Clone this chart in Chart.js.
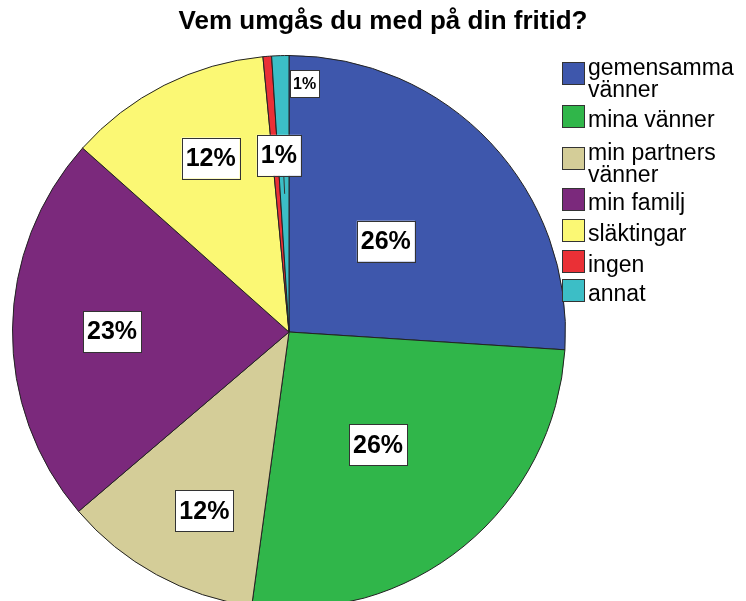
<!DOCTYPE html>
<html>
<head>
<meta charset="utf-8">
<script src="https://cdn.jsdelivr.net/npm/chart.js@4"></script>
<style>
  html, body { margin: 0; padding: 0; background: #fff; overflow: hidden; }
  #wrap { position: relative; width: 746px; height: 640px; }
</style>
</head>
<body>
<div id="wrap"><canvas id="pieChart"></canvas></div>
<script>
const chartTitle = "Vem umgås du med på din fritid?";
const categories = ["gemensamma vänner", "mina vänner", "min partners vänner", "min familj", "släktingar", "ingen", "annat"];
const percents = [26.0, 26.1, 11.6, 22.8, 11.9, 0.5, 1.0];
const sliceColors = ["#3e57ac", "#30b64a", "#d4cd98", "#7b297c", "#fbf874", "#ea3036", "#3cbec6"];

// where each percent box sits: fraction of radius, angle shift (deg), font size
const labelRadius = [0.48, 0.52, 0.715, 0.64, 0.69, 0.9, 0.64];
const labelShift = [0, 1, -3.3, -0.5, 2.6, 8.1, -1.5];
const labelSize = [25, 25, 25, 25, 25, 16, 25];

// legend row spacing (px) after each entry
const legendStep = [43, 42, 41, 31, 31, 29, 30];

const labelPlugin = {
  id: "pctLabels",
  afterDatasetsDraw(chart) {
    const ctx = chart.ctx;
    const arcs = chart.getDatasetMeta(0).data;
    ctx.save();
    arcs.forEach((arc, i) => {
      const p = arc.getProps(["x", "y", "startAngle", "endAngle", "outerRadius"], true);
      const mid = (p.startAngle + p.endAngle) / 2;
      const a = mid + labelShift[i] * Math.PI / 180;
      const lx = p.x + Math.cos(a) * p.outerRadius * labelRadius[i];
      const ly = p.y + Math.sin(a) * p.outerRadius * labelRadius[i];
      const size = labelSize[i];
      const text = Math.round(percents[i]) + "%";
      ctx.font = "bold " + size + "px 'Liberation Sans', Arial, sans-serif";
      const w = ctx.measureText(text).width + (size > 20 ? 8 : 6);
      const h = size > 20 ? 41 : 27;

      // leader line for the thin slice whose box sits outside it
      if (i === 6) {
        ctx.strokeStyle = "#333";
        ctx.lineWidth = 1;
        ctx.beginPath();
        ctx.moveTo(lx + 5, ly + h / 2);
        ctx.lineTo(p.x + Math.cos(mid) * p.outerRadius * 0.5, p.y + Math.sin(mid) * p.outerRadius * 0.5);
        ctx.stroke();
      }

      ctx.fillStyle = "#fff";
      ctx.fillRect(lx - w / 2, ly - h / 2, w, h);
      ctx.strokeStyle = "#333";
      ctx.lineWidth = 1;
      ctx.strokeRect(Math.round(lx - w / 2) + 0.5, Math.round(ly - h / 2) + 0.5, Math.round(w), Math.round(h));
      ctx.fillStyle = "#000";
      ctx.textAlign = "center";
      ctx.textBaseline = "middle";
      ctx.fillText(text, lx, ly + 1);
    });
    ctx.restore();
  }
};

function wrapText(ctx, text, maxWidth) {
  const words = text.split(" ");
  const lines = [];
  let line = "";
  words.forEach((word) => {
    const test = line ? line + " " + word : word;
    if (line && ctx.measureText(test).width > maxWidth) {
      lines.push(line);
      line = word;
    } else {
      line = test;
    }
  });
  lines.push(line);
  return lines;
}

const sideLegendPlugin = {
  id: "sideLegend",
  afterDraw(chart) {
    const ctx = chart.ctx;
    ctx.save();
    ctx.font = "23px 'Liberation Sans', Arial, sans-serif";
    ctx.textBaseline = "middle";
    ctx.textAlign = "left";
    let top = 62;
    chart.data.labels.forEach((label, i) => {
      const lines = wrapText(ctx, label, 152);
      ctx.fillStyle = sliceColors[i];
      ctx.fillRect(562, top, 23, 23);
      ctx.strokeStyle = "#333";
      ctx.lineWidth = 1;
      ctx.strokeRect(562.5, top + 0.5, 22, 22);
      ctx.fillStyle = "#000";
      const first = lines.length > 1 ? top + 7 : top + 16;
      lines.forEach((ln, k) => {
        ctx.fillText(ln, 588, first + k * 22);
      });
      top += legendStep[i];
    });

    ctx.font = "bold 26px 'Liberation Sans', Arial, sans-serif";
    ctx.textAlign = "center";
    ctx.fillText(chartTitle, 383, 22);
    ctx.restore();
  }
};

new Chart(document.getElementById("pieChart").getContext("2d"), {
  type: "pie",
  data: {
    labels: categories,
    datasets: [{
      data: percents,
      backgroundColor: sliceColors,
      borderColor: "#222",
      borderWidth: 1
    }]
  },
  options: {
    responsive: true,
    maintainAspectRatio: false,
    animation: false,
    layout: { padding: { left: 12, top: 55, right: 180, bottom: 31 } },
    plugins: {
      legend: { display: false },
      title: { display: false },
      tooltip: { enabled: false }
    }
  },
  plugins: [labelPlugin, sideLegendPlugin]
});
</script>
</body>
</html>
